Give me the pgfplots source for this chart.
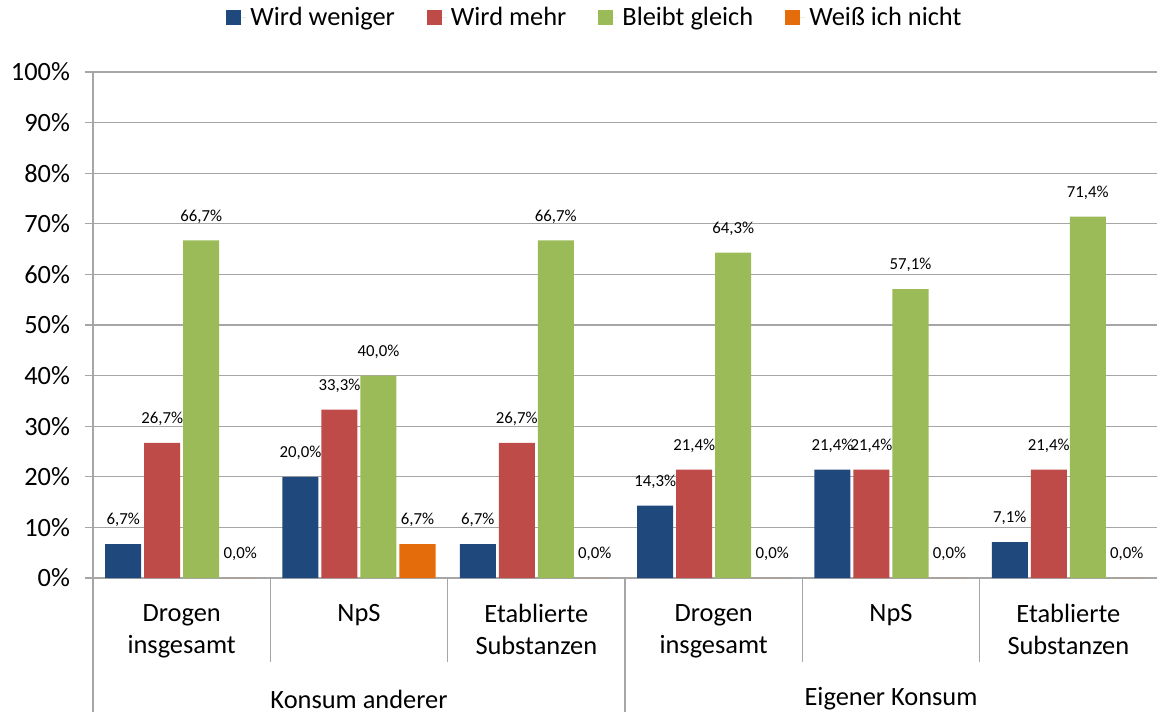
\documentclass[border=0pt]{standalone}
\usepackage{pgfplots}
\pgfplotsset{compat=1.18}
\usepackage{fontspec}
\setmainfont{Carlito}
\definecolor{cBlue}{HTML}{1F497D}
\definecolor{cRed}{HTML}{BE4B48}
\definecolor{cGreen}{HTML}{9BBB59}
\definecolor{cOrange}{HTML}{E46C0A}
\definecolor{cGrid}{HTML}{A6A6A6}

\begin{document}
\begin{tikzpicture}
\path[use as bounding box] (-46.5pt,-67pt) rectangle (532pt,289pt);
\begin{axis}[
    scale only axis, width=532pt, height=253pt,
    ybar, bar width=18pt,
    xmin=-0.5, xmax=5.5, ymin=0, ymax=100,
    clip=false,
    axis x line*=bottom, axis y line*=left,
    axis line style={cGrid, line width=0.6pt},
    ytick={0,10,...,100},
    ymajorgrids, grid style={cGrid, line width=0.6pt},
    y tick style={cGrid, line width=0.6pt},
    tick align=outside, major tick length=4pt,
    /pgf/number format/assume math mode=true,
    yticklabel={\pgfmathprintnumber{\tick}\%},
    yticklabel style={font=\fontsize{13.2}{15}\selectfont, xshift=-4pt},
    xtick={0,...,5},
    x tick style={draw=none},
    xticklabels={{Drogen\\insgesamt},NpS,{Etablierte\\Substanzen},{Drogen\\insgesamt},NpS,{Etablierte\\Substanzen}},
    xticklabel style={align=center, anchor=north, yshift=-5.5pt, font=\fontsize{13.2}{16}\selectfont},
    nodes near coords={\pgfmathprintnumber[fixed,fixed zerofill,precision=1,use comma]{\pgfplotspointmeta}\%},
    every node near coord/.append style={font=\fontsize{8.4}{10}\selectfont, anchor=center, yshift=12pt, inner sep=0.5pt, text=black},
    legend columns=4,
    legend style={at={(axis description cs:0.4727,1.107)}, anchor=center, draw=none,
        font=\fontsize{13.2}{15}\selectfont,
        /tikz/every even column/.append style={column sep=14pt}},
    legend image code/.code={\draw[#1,draw=none] (0pt,-3.75pt) rectangle (7.5pt,3.75pt);
        \path (0pt,0pt) -- (10pt,0pt);},
    every axis plot/.append style={draw=none},
]
\addplot[fill=cBlue, bar shift=-29.25pt] coordinates {(0,6.7) (1,20.0) (2,6.7) (3,14.3) (4,21.4) (5,7.1)};
\addplot[fill=cRed, bar shift=-9.75pt] coordinates {(0,26.7) (1,33.3) (2,26.7) (3,21.4) (4,21.4) (5,21.4)};
\addplot[fill=cGreen, bar shift=9.75pt] coordinates {(0,66.7) (1,40.0) (2,66.7) (3,64.3) (4,57.1) (5,71.4)};
\addplot[fill=cOrange, bar shift=29.25pt] coordinates {(0,0) (1,6.7) (2,0) (3,0) (4,0) (5,0)};
\legend{Wird weniger, Wird mehr, Bleibt gleich, Weiß ich nicht}
\draw[cGrid, line width=0.6pt] (axis cs:-0.5,0) -- ++(0pt,-67pt);
\draw[cGrid, line width=0.6pt] (axis cs:2.5,0) -- ++(0pt,-67pt);
\draw[cGrid, line width=0.6pt] (axis cs:0.5,0) -- ++(0pt,-42pt);
\draw[cGrid, line width=0.6pt] (axis cs:1.5,0) -- ++(0pt,-42pt);
\draw[cGrid, line width=0.6pt] (axis cs:3.5,0) -- ++(0pt,-42pt);
\draw[cGrid, line width=0.6pt] (axis cs:4.5,0) -- ++(0pt,-42pt);
\node[font=\fontsize{13.2}{15}\selectfont] at (axis cs:1,0) [yshift=-60.5pt] {Konsum anderer};
\node[font=\fontsize{13.2}{15}\selectfont] at (axis cs:4,0) [yshift=-60.5pt] {Eigener Konsum};
\end{axis}
\end{tikzpicture}
\end{document}
